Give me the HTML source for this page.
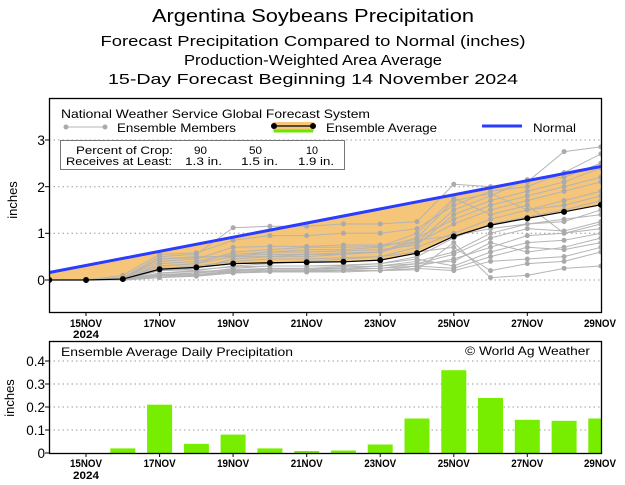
<!DOCTYPE html>
<html><head><meta charset="utf-8"><style>
html,body{margin:0;padding:0;background:#fff;}
svg{display:block;font-family:"Liberation Sans","DejaVu Sans",sans-serif;}
</style></head><body>
<svg width="625" height="485" viewBox="0 0 625 485" xmlns="http://www.w3.org/2000/svg">
<rect width="625" height="485" fill="#fff"/>
<g fill="#000" text-anchor="middle">
<text x="313" y="22" font-size="18" textLength="322" lengthAdjust="spacingAndGlyphs">Argentina Soybeans Precipitation</text>
<text x="313" y="46" font-size="15" textLength="425" lengthAdjust="spacingAndGlyphs">Forecast Precipitation Compared to Normal (inches)</text>
<text x="313" y="65" font-size="15" textLength="258" lengthAdjust="spacingAndGlyphs">Production-Weighted Area Average</text>
<text x="313" y="84" font-size="15" textLength="410" lengthAdjust="spacingAndGlyphs">15-Day Forecast Beginning 14 November 2024</text>
</g>
<defs><clipPath id="c1"><rect x="49" y="98" width="552" height="214"/></clipPath>
<clipPath id="c2"><rect x="49" y="341" width="552" height="112"/></clipPath></defs>
<g stroke="#999" stroke-dasharray="1.5,3" stroke-width="1">
<line x1="49" x2="601" y1="140" y2="140"/><line x1="49" x2="601" y1="186.7" y2="186.7"/>
<line x1="49" x2="601" y1="233.3" y2="233.3"/><line x1="49" x2="601" y1="280" y2="280"/>
</g>
<g clip-path="url(#c1)">
<g transform="translate(49.3,280) scale(36.77,-46.7)">
<polygon fill="#f5c57a" points="0,0.16 15,2.43 15,1.61 14,1.46 13,1.32 12,1.175 11,0.935 10,0.575 9,0.425 8,0.39 7,0.38 6,0.37 5,0.35 4,0.27 3,0.23 2,0.02 1,0 0,0"/>
<g fill="none" stroke="#b4b4b4" stroke-width="1">
<polyline vector-effect="non-scaling-stroke" points="0,0 1,0 2,0.05 3,0.5 4,0.55 5,1.12 6,1.15 7,1.15 8,1.2 9,1.2 10,1.25 11,2.05 12,2.0 13,2.1 14,2.75 15,2.85"/>
<polyline vector-effect="non-scaling-stroke" points="0,0 1,0 2,0.1 3,0.55 4,0.58 5,0.85 6,0.95 7,0.95 8,1.0 9,1.0 10,1.1 11,1.6 12,1.9 13,2.0 14,2.3 15,2.7"/>
<polyline vector-effect="non-scaling-stroke" points="0,0 1,0 2,0.02 3,0.4 4,0.45 5,0.7 6,0.72 7,0.72 8,0.75 9,0.75 10,0.8 11,1.5 12,1.8 13,2.15 14,2.2 15,2.5"/>
<polyline vector-effect="non-scaling-stroke" points="0,0 1,0 2,0.02 3,0.3 4,0.35 5,0.5 6,0.6 7,0.65 8,0.65 9,0.7 10,0.9 11,1.3 12,1.6 13,1.8 14,2.0 15,2.2"/>
<polyline vector-effect="non-scaling-stroke" points="0,0 1,0 2,0 3,0.2 4,0.25 5,0.45 6,0.5 7,0.5 8,0.55 9,0.6 10,0.8 11,1.2 12,1.5 13,1.7 14,1.9 15,2.1"/>
<polyline vector-effect="non-scaling-stroke" points="0,0 1,0 2,0 3,0.15 4,0.2 5,0.3 6,0.35 7,0.4 8,0.45 9,0.5 10,0.7 11,1.0 12,1.3 13,1.5 14,1.7 15,1.9"/>
<polyline vector-effect="non-scaling-stroke" points="0,0 1,0 2,0 3,0.1 4,0.15 5,0.25 6,0.3 7,0.3 8,0.3 9,0.35 10,0.5 11,0.9 12,1.2 13,1.35 14,1.5 15,1.7"/>
<polyline vector-effect="non-scaling-stroke" points="0,0 1,0 2,0.02 3,0.45 4,0.5 5,0.5 6,0.5 7,0.55 8,0.55 9,0.6 10,0.85 11,0.95 12,1.1 13,1.2 14,1.25 15,1.5"/>
<polyline vector-effect="non-scaling-stroke" points="0,0 1,0 2,0 3,0.05 4,0.1 5,0.2 6,0.25 7,0.25 8,0.25 9,0.3 10,0.4 11,0.6 12,1.0 13,1.2 14,1.3 15,1.4"/>
<polyline vector-effect="non-scaling-stroke" points="0,0 1,0 2,0 3,0.1 4,0.12 5,0.18 6,0.2 7,0.2 8,0.22 9,0.25 10,0.35 11,0.55 12,0.9 13,1.1 14,1.05 15,1.25"/>
<polyline vector-effect="non-scaling-stroke" points="0,0 1,0 2,0 3,0.08 4,0.1 5,0.15 6,0.18 7,0.2 8,0.2 9,0.2 10,0.3 11,0.45 12,0.7 13,0.95 14,1.0 15,1.1"/>
<polyline vector-effect="non-scaling-stroke" points="0,0 1,0 2,0 3,0.2 4,0.22 5,0.28 6,0.3 7,0.3 8,0.32 9,0.35 10,0.45 11,0.3 12,0.6 13,0.8 14,0.85 15,1.0"/>
<polyline vector-effect="non-scaling-stroke" points="0,0 1,0 2,0 3,0.12 4,0.15 5,0.2 6,0.22 7,0.22 8,0.25 9,0.25 10,0.3 11,0.25 12,0.5 13,0.7 14,0.65 15,0.8"/>
<polyline vector-effect="non-scaling-stroke" points="0,0 1,0 2,0 3,0.05 4,0.08 5,0.15 6,0.17 7,0.17 8,0.17 9,0.2 10,0.25 11,0.2 12,0.4 13,0.45 14,0.5 15,0.7"/>
<polyline vector-effect="non-scaling-stroke" points="0,0 1,0 2,0 3,0.25 4,0.3 5,0.4 6,0.45 7,0.45 8,0.48 9,0.5 10,0.6 11,0.7 12,0.2 13,0.35 14,0.4 15,0.6"/>
<polyline vector-effect="non-scaling-stroke" points="0,0 1,0 2,0 3,0.1 4,0.12 5,0.16 6,0.18 7,0.18 8,0.2 9,0.2 10,0.22 11,0.8 12,0.05 13,0.1 14,0.25 15,0.3"/>
<polyline vector-effect="non-scaling-stroke" points="0,0 1,0 2,0 3,0.3 4,0.35 5,0.6 6,0.65 7,0.7 8,0.7 9,0.72 10,1.0 11,1.75 12,1.4 13,1.6 14,1.0 15,1.2"/>
<polyline vector-effect="non-scaling-stroke" points="0,0 1,0 2,0 3,0.35 4,0.4 5,0.55 6,0.6 7,0.6 8,0.62 9,0.65 10,0.75 11,1.4 12,1.7 13,1.9 14,2.1 15,2.4"/>
<polyline vector-effect="non-scaling-stroke" points="0,0 1,0 2,0.05 3,0.45 4,0.48 5,0.52 6,0.55 7,0.55 8,0.58 9,0.6 10,0.9 11,1.7 12,1.85 13,1.5 14,1.6 15,1.8"/>
<polyline vector-effect="non-scaling-stroke" points="0,0 1,0 2,0 3,0.15 4,0.18 5,0.22 6,0.25 7,0.25 8,0.28 9,0.3 10,0.35 11,0.4 12,0.8 13,0.6 14,0.7 15,0.9"/>
</g>
<path fill="none" stroke="#aaa" stroke-width="5" stroke-linecap="round" vector-effect="non-scaling-stroke" d="M2,0.05h0M2,0.1h0M3,0.5h0M3,0.55h0M3,0.4h0M3,0.3h0M3,0.2h0M3,0.15h0M3,0.1h0M3,0.45h0M3,0.05h0M3,0.25h0M3,0.35h0M3,0.12h0M3,0.08h0
M4,0.55h0M4,0.58h0M4,0.45h0M4,0.35h0M4,0.25h0M4,0.2h0M4,0.15h0M4,0.5h0M4,0.1h0M4,0.12h0M4,0.4h0M4,0.3h0M4,0.48h0M4,0.18h0M4,0.08h0
M5,1.12h0M5,0.85h0M5,0.7h0M5,0.5h0M5,0.45h0M5,0.3h0M5,0.25h0M5,0.2h0M5,0.18h0M5,0.15h0M5,0.28h0M5,0.4h0M5,0.6h0M5,0.55h0M5,0.52h0M5,0.22h0
M6,1.15h0M6,0.95h0M6,0.72h0M6,0.6h0M6,0.5h0M6,0.35h0M6,0.3h0M6,0.25h0M6,0.2h0M6,0.18h0M6,0.45h0M6,0.65h0M6,0.55h0M6,0.22h0
M7,1.15h0M7,0.95h0M7,0.72h0M7,0.65h0M7,0.5h0M7,0.4h0M7,0.3h0M7,0.25h0M7,0.2h0M7,0.55h0M7,0.45h0M7,0.7h0M7,0.6h0M7,0.17h0
M8,1.2h0M8,1.0h0M8,0.75h0M8,0.65h0M8,0.55h0M8,0.45h0M8,0.3h0M8,0.25h0M8,0.22h0M8,0.2h0M8,0.32h0M8,0.48h0M8,0.7h0M8,0.62h0M8,0.58h0M8,0.28h0
M9,1.2h0M9,1.0h0M9,0.75h0M9,0.7h0M9,0.6h0M9,0.5h0M9,0.35h0M9,0.3h0M9,0.25h0M9,0.2h0M9,0.72h0M9,0.65h0
M10,1.25h0M10,1.1h0M10,0.8h0M10,0.9h0M10,0.7h0M10,0.5h0M10,0.85h0M10,0.4h0M10,0.35h0M10,0.3h0M10,0.45h0M10,0.25h0M10,0.6h0M10,0.22h0M10,1.0h0M10,0.75h0
M11,2.05h0M11,1.6h0M11,1.5h0M11,1.3h0M11,1.2h0M11,1.0h0M11,0.9h0M11,0.95h0M11,0.6h0M11,0.55h0M11,0.45h0M11,0.3h0M11,0.25h0M11,0.2h0M11,0.7h0M11,0.8h0M11,1.75h0M11,1.4h0M11,1.7h0M11,0.4h0
M12,2.0h0M12,1.9h0M12,1.8h0M12,1.6h0M12,1.5h0M12,1.3h0M12,1.2h0M12,1.1h0M12,1.0h0M12,0.9h0M12,0.7h0M12,0.6h0M12,0.5h0M12,0.4h0M12,0.2h0M12,0.05h0M12,1.4h0M12,1.7h0M12,1.85h0M12,0.8h0
M13,2.1h0M13,2.0h0M13,2.15h0M13,1.8h0M13,1.7h0M13,1.5h0M13,1.35h0M13,1.2h0M13,0.95h0M13,1.1h0M13,0.8h0M13,0.7h0M13,0.45h0M13,0.35h0M13,0.1h0M13,1.6h0M13,1.9h0M13,0.6h0
M14,2.75h0M14,2.3h0M14,2.2h0M14,2.0h0M14,1.9h0M14,1.7h0M14,1.5h0M14,1.25h0M14,1.3h0M14,1.05h0M14,1.0h0M14,0.85h0M14,0.65h0M14,0.5h0M14,0.4h0M14,0.25h0M14,2.1h0M14,1.6h0M14,0.7h0
M15,2.85h0M15,2.7h0M15,2.5h0M15,2.2h0M15,2.1h0M15,1.9h0M15,1.7h0M15,1.5h0M15,1.4h0M15,1.25h0M15,1.1h0M15,1.0h0M15,0.8h0M15,0.7h0M15,0.6h0M15,0.3h0M15,1.2h0M15,2.4h0M15,1.8h0M15,0.9h0"/>
<polyline fill="none" stroke="#2a3cff" stroke-width="3" vector-effect="non-scaling-stroke" points="0,0.16 15,2.43"/>
<polyline fill="none" stroke="#000" stroke-width="1.2" vector-effect="non-scaling-stroke" points="0,0 1,0 2,0.02 3,0.23 4,0.27 5,0.35 6,0.37 7,0.38 8,0.39 9,0.425 10,0.575 11,0.935 12,1.175 13,1.32 14,1.46 15,1.61"/>
<path fill="none" stroke="#000" stroke-width="6" stroke-linecap="round" vector-effect="non-scaling-stroke" d="M0,0h0M1,0h0M2,0.02h0M3,0.23h0M4,0.27h0M5,0.35h0M6,0.37h0M7,0.38h0M8,0.39h0M9,0.425h0M10,0.575h0M11,0.935h0M12,1.175h0M13,1.32h0M14,1.46h0M15,1.61h0"/>
</g>
</g>
<g font-size="12" fill="#000">
<text x="61" y="118" textLength="309" lengthAdjust="spacingAndGlyphs">National Weather Service Global Forecast System</text>
<line x1="65" x2="105" y1="127" y2="127" stroke="#b4b4b4"/><circle cx="66" cy="127" r="2.5" fill="#aaa"/><circle cx="105" cy="127" r="2.5" fill="#aaa"/>
<text x="117" y="132" textLength="119" lengthAdjust="spacingAndGlyphs">Ensemble Members</text>
<rect x="273" y="122" width="41" height="9" fill="#f5c57a"/>
<line x1="274" x2="313" y1="131" y2="131" stroke="#6ee600" stroke-width="3"/>
<line x1="274" x2="313" y1="126" y2="126" stroke="#000" stroke-width="1.2"/>
<circle cx="274" cy="126" r="3" fill="#000"/><circle cx="313" cy="126" r="3" fill="#000"/>
<text x="326" y="132" textLength="111" lengthAdjust="spacingAndGlyphs">Ensemble Average</text>
<line x1="482" x2="522" y1="126" y2="126" stroke="#2a3cff" stroke-width="3"/>
<text x="533" y="132" textLength="43" lengthAdjust="spacingAndGlyphs">Normal</text>
<rect x="60.5" y="140.5" width="284" height="29" fill="#fff" stroke="#777"/>
</g>
<g font-size="11" fill="#000">
<text x="76" y="154" textLength="97" lengthAdjust="spacingAndGlyphs">Percent of Crop:</text>
<text x="194" y="154" textLength="13" lengthAdjust="spacingAndGlyphs">90</text>
<text x="249" y="154" textLength="13" lengthAdjust="spacingAndGlyphs">50</text>
<text x="306" y="154" textLength="12" lengthAdjust="spacingAndGlyphs">10</text>
<text x="66" y="165" textLength="106" lengthAdjust="spacingAndGlyphs">Receives at Least:</text>
<text x="185" y="165" textLength="37" lengthAdjust="spacingAndGlyphs">1.3 in.</text>
<text x="241" y="165" textLength="37" lengthAdjust="spacingAndGlyphs">1.5 in.</text>
<text x="298" y="165" textLength="36" lengthAdjust="spacingAndGlyphs">1.9 in.</text>
</g>
<rect x="49.5" y="98.5" width="552" height="214" fill="none" stroke="#000" stroke-width="1.3"/>
<g font-size="14" text-anchor="end"><text x="45" y="285">0</text><text x="45" y="238">1</text><text x="45" y="192">2</text><text x="45" y="145">3</text></g>
<g stroke="#000"><line x1="45" x2="49" y1="280" y2="280"/><line x1="45" x2="49" y1="233.3" y2="233.3"/><line x1="45" x2="49" y1="186.7" y2="186.7"/><line x1="45" x2="49" y1="140" y2="140"/></g>
<text transform="translate(17,200) rotate(-90)" font-size="13" text-anchor="middle">inches</text>
<g font-size="11" font-weight="bold" text-anchor="middle" fill="#000">
<text x="86" y="327" textLength="32" lengthAdjust="spacingAndGlyphs">15NOV</text><text x="86" y="338" textLength="26" lengthAdjust="spacingAndGlyphs">2024</text>
<text x="159.6" y="327" textLength="32" lengthAdjust="spacingAndGlyphs">17NOV</text>
<text x="233.1" y="327" textLength="32" lengthAdjust="spacingAndGlyphs">19NOV</text>
<text x="306.7" y="327" textLength="32" lengthAdjust="spacingAndGlyphs">21NOV</text>
<text x="380.2" y="327" textLength="32" lengthAdjust="spacingAndGlyphs">23NOV</text>
<text x="453.8" y="327" textLength="32" lengthAdjust="spacingAndGlyphs">25NOV</text>
<text x="527.3" y="327" textLength="32" lengthAdjust="spacingAndGlyphs">27NOV</text>
<text x="600" y="327" textLength="32" lengthAdjust="spacingAndGlyphs">29NOV</text>
</g>
<g stroke="#000"><line x1="86" x2="86" y1="312" y2="316"/><line x1="159.6" x2="159.6" y1="312" y2="316"/><line x1="233.1" x2="233.1" y1="312" y2="316"/><line x1="306.7" x2="306.7" y1="312" y2="316"/><line x1="380.2" x2="380.2" y1="312" y2="316"/><line x1="453.8" x2="453.8" y1="312" y2="316"/><line x1="527.3" x2="527.3" y1="312" y2="316"/></g>

<g stroke="#999" stroke-dasharray="1.5,3"><line x1="49" x2="601" y1="361" y2="361"/><line x1="49" x2="601" y1="384" y2="384"/><line x1="49" x2="601" y1="407" y2="407"/><line x1="49" x2="601" y1="430" y2="430"/></g>
<g fill="#77ee00" clip-path="url(#c2)">
<rect x="110.3" y="448.4" width="25" height="4.6"/>
<rect x="147.1" y="404.7" width="25" height="48.3"/>
<rect x="183.9" y="443.8" width="25" height="9.2"/>
<rect x="220.6" y="434.6" width="25" height="18.4"/>
<rect x="257.4" y="448.4" width="25" height="4.6"/>
<rect x="294.2" y="451" width="25" height="2"/>
<rect x="330.9" y="450.5" width="25" height="2.5"/>
<rect x="367.7" y="444.5" width="25" height="8.5"/>
<rect x="404.5" y="418.5" width="25" height="34.5"/>
<rect x="441.3" y="370.2" width="25" height="82.8"/>
<rect x="478" y="398" width="25" height="55"/>
<rect x="514.8" y="419.8" width="25" height="33.2"/>
<rect x="551.6" y="420.8" width="25" height="32.2"/>
<rect x="588.3" y="418.5" width="25" height="34.5"/>
</g>
<rect x="49.5" y="341.5" width="552" height="112" fill="none" stroke="#000" stroke-width="1.3"/>
<g font-size="12" fill="#000">
<text x="61" y="356" textLength="232" lengthAdjust="spacingAndGlyphs">Ensemble Average Daily Precipitation</text>
<text x="465" y="355" textLength="125" lengthAdjust="spacingAndGlyphs">© World Ag Weather</text>
</g>
<g font-size="13.5" text-anchor="end"><text x="45" y="458">0</text><text x="45" y="435">0.1</text><text x="45" y="412">0.2</text><text x="45" y="389">0.3</text><text x="45" y="366">0.4</text></g>
<g stroke="#000"><line x1="45" x2="49" y1="453" y2="453"/><line x1="45" x2="49" y1="430" y2="430"/><line x1="45" x2="49" y1="407" y2="407"/><line x1="45" x2="49" y1="384" y2="384"/><line x1="45" x2="49" y1="361" y2="361"/></g>
<text transform="translate(14,398) rotate(-90)" font-size="13" text-anchor="middle">inches</text>
<g font-size="11" font-weight="bold" text-anchor="middle" fill="#000">
<text x="86" y="467" textLength="32" lengthAdjust="spacingAndGlyphs">15NOV</text><text x="86" y="479" textLength="26" lengthAdjust="spacingAndGlyphs">2024</text>
<text x="159.6" y="467" textLength="32" lengthAdjust="spacingAndGlyphs">17NOV</text>
<text x="233.1" y="467" textLength="32" lengthAdjust="spacingAndGlyphs">19NOV</text>
<text x="306.7" y="467" textLength="32" lengthAdjust="spacingAndGlyphs">21NOV</text>
<text x="380.2" y="467" textLength="32" lengthAdjust="spacingAndGlyphs">23NOV</text>
<text x="453.8" y="467" textLength="32" lengthAdjust="spacingAndGlyphs">25NOV</text>
<text x="527.3" y="467" textLength="32" lengthAdjust="spacingAndGlyphs">27NOV</text>
<text x="600" y="467" textLength="32" lengthAdjust="spacingAndGlyphs">29NOV</text>
</g>
<g stroke="#000"><line x1="86" x2="86" y1="453" y2="457"/><line x1="159.6" x2="159.6" y1="453" y2="457"/><line x1="233.1" x2="233.1" y1="453" y2="457"/><line x1="306.7" x2="306.7" y1="453" y2="457"/><line x1="380.2" x2="380.2" y1="453" y2="457"/><line x1="453.8" x2="453.8" y1="453" y2="457"/><line x1="527.3" x2="527.3" y1="453" y2="457"/></g>
</svg>
</body></html>
